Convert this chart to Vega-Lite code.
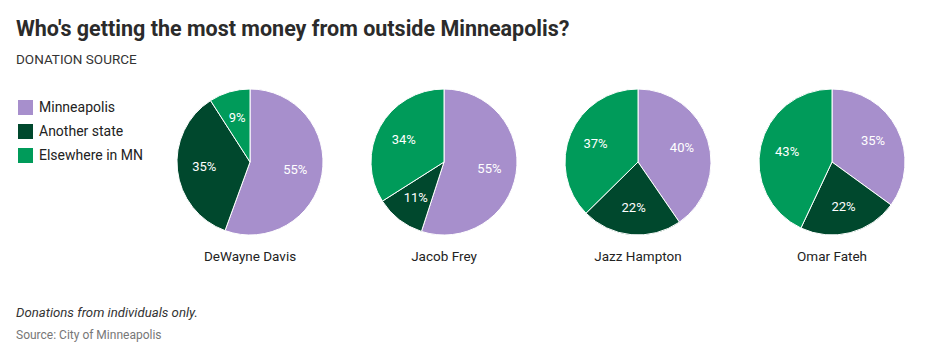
{
  "$schema": "https://vega.github.io/schema/vega-lite/v6.json",
  "padding": {"left": 16, "top": 19, "right": 5, "bottom": 5},
  "background": "white",
  "title": {
    "text": "Who's getting the most money from outside Minneapolis?",
    "subtitle": "DONATION SOURCE",
    "anchor": "start",
    "frame": "bounds",
    "font": "Roboto",
    "fontSize": 21.5,
    "fontWeight": "bold",
    "color": "#2b2b2b",
    "subtitleFont": "Roboto",
    "subtitleFontSize": 13.5,
    "subtitleColor": "#333333",
    "subtitlePadding": 12,
    "offset": 21
  },
  "vconcat": [
    {
      "data": {
        "values": [
          {"candidate": "DeWayne Davis", "source": "Minneapolis", "ord": 1, "share": 0.55},
          {"candidate": "DeWayne Davis", "source": "Another state", "ord": 2, "share": 0.35},
          {"candidate": "DeWayne Davis", "source": "Elsewhere in MN", "ord": 3, "share": 0.09},
          {"candidate": "Jacob Frey", "source": "Minneapolis", "ord": 1, "share": 0.55},
          {"candidate": "Jacob Frey", "source": "Another state", "ord": 2, "share": 0.11},
          {"candidate": "Jacob Frey", "source": "Elsewhere in MN", "ord": 3, "share": 0.34},
          {"candidate": "Jazz Hampton", "source": "Minneapolis", "ord": 1, "share": 0.40},
          {"candidate": "Jazz Hampton", "source": "Another state", "ord": 2, "share": 0.22},
          {"candidate": "Jazz Hampton", "source": "Elsewhere in MN", "ord": 3, "share": 0.37},
          {"candidate": "Omar Fateh", "source": "Minneapolis", "ord": 1, "share": 0.35},
          {"candidate": "Omar Fateh", "source": "Another state", "ord": 2, "share": 0.22},
          {"candidate": "Omar Fateh", "source": "Elsewhere in MN", "ord": 3, "share": 0.43}
        ]
      },
      "title": {
        "text": "Donations from individuals only.",
        "subtitle": "Source: City of Minneapolis",
        "orient": "bottom",
        "anchor": "start",
        "frame": "bounds",
        "dx": -137,
        "font": "Roboto",
        "fontSize": 13.2,
        "fontStyle": "italic",
        "fontWeight": "normal",
        "color": "#333333",
        "subtitleFont": "Roboto",
        "subtitleFontSize": 12,
        "subtitleColor": "#777777",
        "subtitlePadding": 10,
        "offset": 43
      },
      "facet": {
        "column": {
          "field": "candidate",
          "type": "nominal",
          "sort": ["DeWayne Davis", "Jacob Frey", "Jazz Hampton", "Omar Fateh"],
          "header": {
            "title": null,
            "labelOrient": "bottom",
            "labelFont": "Roboto",
            "labelFontSize": 13.5,
            "labelColor": "#222222",
            "labelPadding": 13
          }
        }
      },
      "spacing": 0,
      "spec": {
        "width": 194,
        "height": 146,
        "encoding": {
          "theta": {"field": "share", "type": "quantitative", "stack": true},
          "order": {"field": "ord", "type": "quantitative"}
        },
        "layer": [
          {
            "mark": {"type": "arc", "outerRadius": 73, "stroke": "white", "strokeWidth": 1},
            "encoding": {
              "color": {
                "field": "source",
                "type": "nominal",
                "sort": ["Minneapolis", "Another state", "Elsewhere in MN"],
                "scale": {
                  "domain": ["Minneapolis", "Another state", "Elsewhere in MN"],
                  "range": ["#a78fcc", "#00482d", "#009b5a"]
                },
                "legend": {
                  "title": null,
                  "orient": "none",
                  "legendX": -135,
                  "legendY": 11,
                  "symbolType": "square",
                  "symbolSize": 225,
                  "symbolStrokeWidth": 0,
                  "symbolOpacity": 1,
                  "labelFont": "Roboto",
                  "labelFontSize": 14,
                  "labelColor": "#222222",
                  "rowPadding": 9,
                  "labelOffset": 6,
                  "padding": 0
                }
              }
            }
          },
          {
            "mark": {"type": "text", "radius": 46, "color": "white", "font": "Roboto", "fontSize": 13},
            "encoding": {
              "text": {"field": "share", "type": "quantitative", "format": ".0%"},
              "detail": {"field": "source", "type": "nominal"}
            }
          }
        ]
      }
    }
  ],
  "config": {
    "view": {"stroke": null},
    "concat": {"spacing": 0}
  }
}
